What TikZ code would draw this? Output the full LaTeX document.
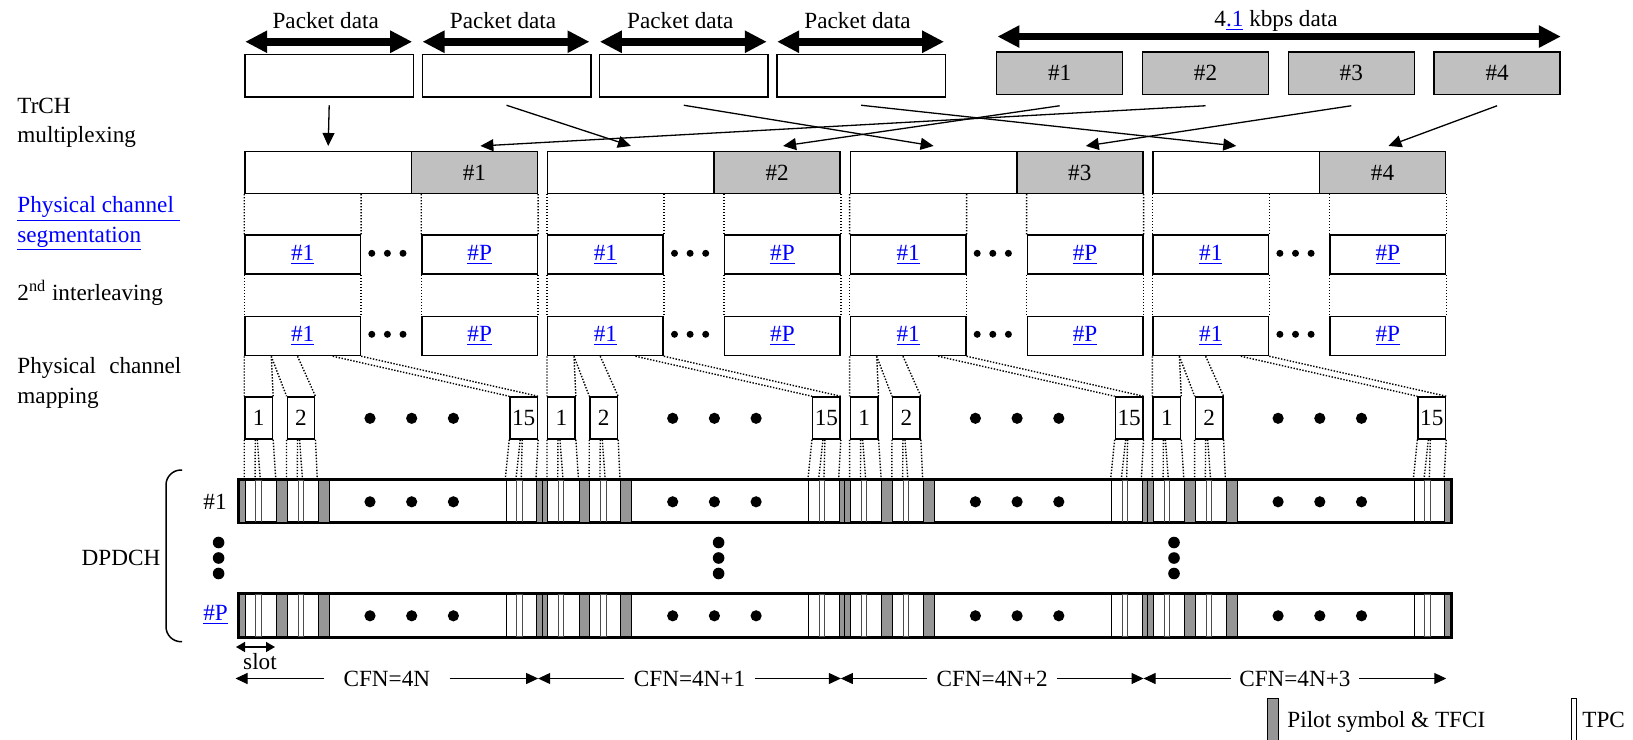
\documentclass[tikz,border=0pt]{standalone}
\usepackage{fontspec}
\setmainfont{Liberation Serif}
\usetikzlibrary{arrows.meta,calc}
\definecolor{silver}{RGB}{192,192,192}
\definecolor{pilotgray}{RGB}{150,150,150}
\definecolor{linkblue}{RGB}{0,0,255}
\newcommand{\lnk}[1]{\textcolor{linkblue}{\underline{#1}}}

\begin{document}
\begin{tikzpicture}[x=.5pt,y=-.5pt,inner sep=0pt,
  font=\fontsize{11.6}{15}\selectfont,
  box/.style={draw,line width=.75pt,inner sep=0pt},
  grey/.style={box,fill=silver},
  slotbox/.style={box,minimum width=13.7pt,minimum height=21pt},
  fat/.style={line width=3.8pt,{Triangle[length=11pt,width=10.5pt]}-{Triangle[length=11pt,width=10.5pt]}},
  mux/.style={line width=.65pt,-{Triangle[length=6.5pt,width=6pt]}},
  dots/.style={line width=.7pt,dash pattern=on .7pt off .8pt},
  cfn/.style={line width=.5pt,-{Triangle[length=6pt,width=5.5pt]}},
  slotarrow/.style={line width=.75pt,{Triangle[length=4.5pt,width=5pt]}-{Triangle[length=4.5pt,width=5pt]}}]
 \useasboundingbox (0,0) rectangle (1633,739);
 % transport channels
 \foreach \i in {1,...,4}{
  \pgfmathsetmacro\cx{329.2+177.3*(\i-1)}
  \node[box,minimum width=84.25pt,minimum height=21.25pt] (pk\i) at (\cx,75.75) {};
  \draw[fat] ($(pk\i.north west)+(1,-12)$) -- ($(pk\i.north east)+(-2,-12)$);
  \node[anchor=base] (pl\i) at (\cx-3.5,28.5) {Packet data};
 }
 \foreach \i in {1,...,4}{
  \pgfmathsetmacro\cx{1059.7+145.8*(\i-1)}
  \node[grey,minimum width=63pt,minimum height=21.25pt] (tc\i) at (\cx,73.25) {\#\i};
 }
 \draw[fat] ($(tc1.north west)+(1.5,-14.7)$) -- ($(tc4.north east)+(0,-14.7)$);
 \node[anchor=base] (rate) at (1276,26.7) {4\lnk{.1} kbps data};
 % left labels
 \node[anchor=base west] (trch) at (17,113.5) {TrCH};
 \node[anchor=base west] (trmux) at (17,142.5) {multiplexing};
 \node[anchor=base west] (seg1) at (17,212.5) {\lnk{Physical channel\ }};
 \node[anchor=base west] (seg2) at (17,242) {\lnk{segmentation}};
 \node[anchor=base west] (intl) at (17,300) {2\textsuperscript{nd} interleaving};
 \node[anchor=base west] (map1) at (17,373.5) {\makebox[82pt][s]{Physical channel}};
 \node[anchor=base west] (map2) at (17,403.5) {mapping};
 % DPDCH rows
 \node[draw,line width=1pt,minimum width=606pt,minimum height=21pt] (dp1) at (845,501) {};
 \node[draw,line width=1pt,minimum width=606pt,minimum height=21.25pt] (dpP) at (845,615.25) {};
 \foreach \i in {1,...,4}{
  \pgfmathsetmacro\fx{245+302.7*(\i-1)}
  \node[box,minimum width=83.2pt,minimum height=20.8pt] (fw\i) at (\fx+83.2,172.5) {};
  \node[grey,minimum width=63pt,minimum height=20.8pt] (fg\i) at (\fx+229.4,172.5) {\#\i};
  \node[box,minimum width=57.7pt,minimum height=19.5pt] (sa\i) at (\fx+57.7,254.5) {\lnk{\#1}};
  \node[box,minimum width=57.7pt,minimum height=19.5pt] (sb\i) at (\fx+234.7,254.5) {\lnk{\#P}};
  \node[box,minimum width=57.7pt,minimum height=19.5pt] (ia\i) at (\fx+57.7,336) {\lnk{\#1}};
  \node[box,minimum width=57.7pt,minimum height=19.5pt] (ib\i) at (\fx+234.7,336) {\lnk{\#P}};
  \foreach \d in {126.8,142.4,158}{
   \fill (\fx+\d,253.3) circle[radius=3.5];
   \fill (\fx+\d,334.3) circle[radius=3.5];
  }
  \node[slotbox] (slA\i) at (\fx+13.7,418) {1};
  \node[slotbox] (slB\i) at (\fx+56,418) {2};
  \node[slotbox] (slO\i) at (\fx+278.7,418) {15};
  \foreach \d in {125,166.7,208.4} \fill (\fx+\d,418.3) circle[radius=5.6];
  \draw[dots] (fw\i.south west) -- (sa\i.north west)
   (sa\i.north east |- fw\i.south) -- (sa\i.north east)
   (sb\i.north west |- fw\i.south) -- (sb\i.north west)
   (fg\i.south east) -- (sb\i.north east);
  \draw[dots] (sa\i.south west) -- (ia\i.north west)
   (sa\i.south east) -- (ia\i.north east)
   (sb\i.south west) -- (ib\i.north west)
   (sb\i.south east) -- (ib\i.north east);
  \draw[dots] (ia\i.south west) -- (slA\i.north west)
   ($(ia\i.south west)+(27,0)$) -- (slA\i.north east)
   ($(ia\i.south west)+(27,0)$) -- (slB\i.north west)
   ($(ia\i.south west)+(53.3,0)$) -- (slB\i.north east)
   ($(ia\i.south west)+(88.5,0)$) -- (slO\i.north west)
   (ia\i.south east) -- (slO\i.north east);
  % slot structure
  \foreach \ry in {480,594}{
   \filldraw[fill=pilotgray,line width=.5pt] (\fx-5.5,\ry) rectangle (\fx,\ry+42);
   \foreach \a/\b in {31.5/42.2,73/84,291.7/297}
    \filldraw[fill=pilotgray,line width=.5pt] (\fx+\a,\ry) rectangle (\fx+\b,\ry+42);
   \foreach \a/\b in {10.8/16,53/58.2,271.7/277}
    \draw[line width=.4pt,black!70] (\fx+\a,\ry) rectangle (\fx+\b,\ry+42);
   \draw[line width=.5pt] (\fx+261,\ry) -- (\fx+261,\ry+42);
   \foreach \d in {125,166.7,208.4} \fill (\fx+\d,\ry+21.8) circle[radius=5.6];
  }
  \coordinate (b\i) at (slA\i.south west |- dp1.north);
  \draw[dots] (slA\i.south west) -- (b\i)
   ($(slA\i.south west)+(11,0)$) -- ($(b\i)+(10.8,0)$)
   ($(slA\i.south west)+(13,0)$) -- ($(b\i)+(16,0)$)
   (slA\i.south east) -- ($(b\i)+(31.5,0)$)
   (slB\i.south west) -- ($(b\i)+(42.2,0)$)
   ($(slB\i.south west)+(11,0)$) -- ($(b\i)+(53,0)$)
   ($(slB\i.south west)+(13,0)$) -- ($(b\i)+(58.2,0)$)
   (slB\i.south east) -- ($(b\i)+(73,0)$)
   (slO\i.south west) -- ($(b\i)+(261,0)$)
   ($(slO\i.south west)+(11,0)$) -- ($(b\i)+(271.7,0)$)
   ($(slO\i.south west)+(13,0)$) -- ($(b\i)+(277,0)$)
   (slO\i.south east) -- ($(b\i)+(291.7,0)$);
  \coordinate (ce\i) at (fg\i.east |- 0,678.5);
 }
 \draw[line width=1pt] (dp1.north west) rectangle (dp1.south east);
 \draw[line width=1pt] (dpP.north west) rectangle (dpP.south east);
 % multiplexing arrows
 \foreach \i in {1,...,4} \draw[mux] ([yshift=-3.75pt]pk\i.south) -- ([yshift=2.5pt]fw\i.north);
 \foreach \s/\t in {1/2,2/1,3/3,4/4} \draw[mux] ([yshift=-5.25pt]tc\s.south) -- ([xshift=3pt,yshift=2.5pt]fg\t.north);
 % channel labels
 \node (dpdch) at (121,558.3) {DPDCH};
 \node (ch1) at (215,501.7) {\#1};
 \node (chP) at (215.6,615) {\lnk{\#P}};
 \draw[line width=.75pt,rounded corners=7.5pt] (182,470) -- (166,470) -- (166,641.7) -- (182,641.7);
 \foreach \vx in {218.6,718.6,1174} \foreach \vy in {542.5,558,573.5} \fill (\vx,\vy) circle[radius=5.8];
 % slot and frame lengths
 \coordinate (sl0) at (236,647);
 \coordinate (sl1) at (275,647);
 \draw[slotarrow] (sl0) -- (sl1);
 \node (slotlbl) at (260,661.7) {slot};
 \coordinate (ce0) at (235.5,678.5);
 \foreach \i/\t/\g in {1/4N/9.5pt,2/4N+1/4.5pt,3/4N+2/4.5pt,4/4N+3/4pt}{
  \pgfmathtruncatemacro\p{\i-1}
  \node[inner xsep=\g] (cfn\i) at ($(ce\p)!.5!(ce\i)$) {CFN=\t};
  \draw[cfn] (cfn\i) -- (ce\p);
  \draw[cfn] (cfn\i) -- (ce\i);
 }
 % legend
 \filldraw[fill=pilotgray,line width=.75pt] (1267.6,698.5) rectangle (1278.5,745);
 \node[anchor=base west] (pilotlbl) at (1287,727) {Pilot symbol \& TFCI};
 \draw[line width=.5pt] (1571,698.5) rectangle (1576,745);
 \node[anchor=base west] (tpclbl) at (1582,727) {TPC};
\end{tikzpicture}
\end{document}
